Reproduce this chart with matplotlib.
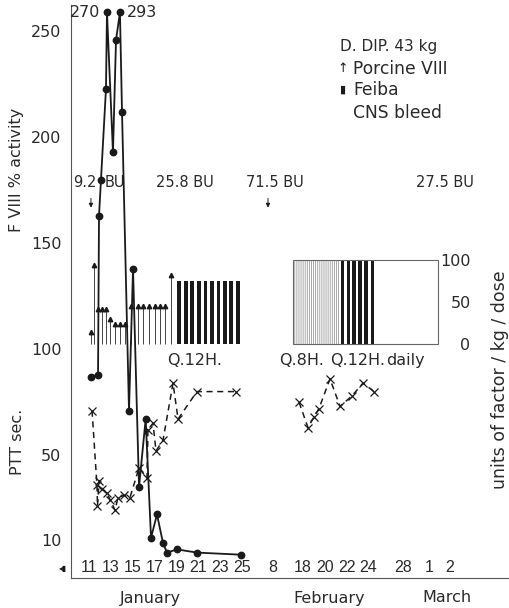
import numpy as np
import matplotlib
matplotlib.use("Agg")
import matplotlib.pyplot as plt

plt.rcParams['font.family'] = ['DejaVu Sans']
plt.rcParams['hatch.linewidth'] = 0.6

# x = position on the hand-drawn, broken date axis (Jan 11 = 11)
tick_pos = [11, 13, 15, 17, 19, 21, 23, 25, 27.9, 30.6, 32.7, 34.7, 36.6, 39.8, 42.2, 44.1]
tick_lab = ['11', '13', '15', '17', '19', '21', '23', '25', '8', '18', '20', '22', '24', '28', '1', '2']
month_pos = [16.6, 33.0, 43.8]
month_lab = ['January', 'February', 'March']

# F VIII % activity
fviii_x = [11.18, 11.83, 11.92, 12.1, 12.56, 12.65, 13.2, 13.48, 13.84, 14.03, 14.67,
           15.04, 15.59, 16.2, 16.69, 17.24, 17.79, 18.16, 19.07, 20.9, 24.94]
fviii = [87, 88, 163, 180, 223, 270, 193, 246, 293, 212, 71,
         138, 35, 67, 11, 22, 8.5, 4, 5.5, 4, 3]

# PTT sec.
ptt_jan_x = [11.28, 11.73, 11.78, 11.92, 12.19, 12.65, 12.93, 13.39, 13.66, 14.21, 14.76,
             15.59, 16.32, 16.41, 16.87, 17.15, 17.79, 18.71, 19.17, 20.9, 24.49]
ptt_jan = [71, 36, 26, 38, 34, 32, 29, 24, 30, 31, 30,
           44, 39, 62, 65, 52, 57, 84, 67, 80, 80]
ptt_feb_x = [30.27, 31.09, 31.64, 32.1, 33.11, 34.03, 35.13, 36.14, 37.15]
ptt_feb = [75, 63, 68, 72, 86, 73, 78, 84, 80]

# doses, units of factor / kg / dose
porcine_x = [11.16, 11.49, 11.85, 12.17, 12.56, 12.93, 13.39, 13.84, 14.3, 14.83,
             15.52, 15.98, 16.5, 17.06, 17.51, 17.97, 18.5]
porcine_dose = [14, 94, 42, 42, 42, 30, 24, 24, 24, 45, 45, 45, 45, 45, 45, 45, 82]
feiba_jan_x = [19.3, 19.9, 20.49, 21.09, 21.69, 22.28, 22.88, 23.48, 24.07, 24.67]
feiba_jan_dose = [75, 75, 75, 75, 75, 75, 75, 75, 75, 75]
feiba_feb_x = [34.23, 34.78, 35.31, 35.86, 36.41, 36.99]
feiba_feb_dose = [100, 100, 100, 100, 100, 100]
q8h_start, q8h_end, q8h_dose = 29.72, 34.03, 100
box_start, box_end = 29.72, 43.02

regimen_x = [20.72, 30.5, 35.63, 39.99]
regimen_lab = ['Q.12H.', 'Q.8H.', 'Q.12H.', 'daily']

bu_x = [10.59, 13.39, 19.8, 28.06, 43.66]
bu_lab = ['9.2', 'BU', '25.8 BU', '71.5 BU', '27.5 BU']
bu_arrow_x = [11.18, 27.42]

ink = '#1a1a1a'
txt = '#2a2a2a'
fs = 11.5

fig = plt.figure(figsize=(5.1, 6.08), dpi=100)
ax = fig.add_axes([71 / 510, 30 / 608, 437 / 510, 573 / 608])
ax.set_xlim(9.35, 49.44)
ax.set_ylim(-8.0, 262.5)
for s in ['top', 'right']:
    ax.spines[s].set_visible(False)
for s in ['left', 'bottom']:
    ax.spines[s].set_linewidth(0.8)
    ax.spines[s].set_color('#555')

ax.set_yticks([10, 50, 100, 150, 200, 250])
ax.tick_params(axis='y', length=0, pad=7, labelsize=fs, labelcolor=txt)
ax.set_xticks(tick_pos, tick_lab)
ax.tick_params(axis='x', which='major', length=0, pad=-13, labelsize=11.5, labelcolor=txt)
for lbl in ax.get_xticklabels():
    lbl.set_fontfamily(['Liberation Sans Narrow', 'Liberation Sans', 'DejaVu Sans'])
ax.set_xticks(month_pos, month_lab, minor=True)
ax.tick_params(axis='x', which='minor', length=0, pad=9, labelsize=fs, labelcolor=txt)

# dose axis
ax2 = ax.twinx()
ax2.set_ylim(-278.6, 403.6)
for s in ax2.spines.values():
    s.set_visible(False)
ax2.set_yticks([0, 50, 100])
ax2.tick_params(axis='y', length=0, pad=-27, labelsize=fs, labelcolor=txt)
for lbl in ax2.get_yticklabels():
    lbl.set_horizontalalignment('right')

ax2.vlines(porcine_x, 0, porcine_dose, color='#444', lw=0.7)
ax2.plot(porcine_x, porcine_dose, '^', ms=3.2, color=ink, ls='none')
ax2.bar(feiba_jan_x, feiba_jan_dose, width=0.36, color=ink)
ax2.bar(q8h_start, q8h_dose, width=q8h_end - q8h_start, align='edge',
        facecolor='white', edgecolor='#9a9a9a', hatch='||||||||', lw=0)
ax2.bar(feiba_feb_x, feiba_feb_dose, width=0.3, color=ink)
ax2.bar(box_start, 100, width=box_end - box_start, align='edge',
        fill=False, edgecolor='#666', lw=0.8)

for x, t in zip(regimen_x, regimen_lab):
    ax2.text(x, -20, t, ha='center', va='center', fontsize=fs, color=txt)

# F VIII and PTT (peaks above 260 drawn at the top edge)
ax.plot(fviii_x, np.minimum(fviii, 259), '-o', color=ink, lw=1.3, ms=4.6, zorder=5)
ax.plot(ptt_jan_x, ptt_jan, '--x', color=ink, lw=1.1, ms=5.5, mew=0.9, dashes=(4, 3), zorder=5)
ax.plot(ptt_feb_x, ptt_feb, '--x', color=ink, lw=1.1, ms=5.5, mew=0.9, dashes=(4, 3), zorder=5)
ax.set_zorder(ax2.get_zorder() + 1)
ax.patch.set_visible(False)

for i in [5, 8]:
    off = -5 if i == 5 else 5
    ax.annotate(str(fviii[i]), xy=(fviii_x[i], 259), xytext=(off, 0), textcoords='offset points',
                ha='right' if off < 0 else 'left', va='center', fontsize=fs, color=txt)

for x, t in zip(bu_x, bu_lab):
    ax.text(x, 178.5, t, ha='center', va='center', fontsize=10.5, color=txt)
for x in bu_arrow_x:
    ax.annotate('', xy=(x, 165.5), xytext=(x, 172.5),
                arrowprops=dict(arrowstyle='-|>', color=ink, lw=0.7, mutation_scale=6))

# key
fig.text(340 / 510, 1 - 47 / 608, 'D. DIP. 43 kg', ha='left', va='center', fontsize=11, color=txt)
fig.text(343 / 510, 1 - 69 / 608, '↑', ha='center', va='center', fontsize=9, color=ink)
fig.text(353 / 510, 1 - 69 / 608, 'Porcine VIII', ha='left', va='center', fontsize=12.3, color=txt)
fig.text(343 / 510, 1 - 90 / 608, '▮', ha='center', va='center', fontsize=8, color=ink)
fig.text(353 / 510, 1 - 90 / 608, 'Feiba', ha='left', va='center', fontsize=12.3, color=txt)
fig.text(353 / 510, 1 - 113 / 608, 'CNS bleed', ha='left', va='center', fontsize=12.3, color=txt)

fig.text(17 / 510, 1 - 170 / 608, 'F VIII % activity', rotation=90, ha='center', va='center',
         fontsize=fs, color=txt)
fig.text(18 / 510, 1 - 442 / 608, 'PTT sec.', rotation=90, ha='center', va='center',
         fontsize=fs, color=txt)
fig.text(500 / 510, 1 - 380 / 608, 'units of factor / kg / dose', rotation=90, ha='center',
         va='center', fontsize=12.5, color=txt)
fig.text(63 / 510, 1 - 568 / 608, '◂▮', ha='center', va='center', fontsize=5.5, color=ink)

fig.savefig('out.png', dpi=100, facecolor='white')
